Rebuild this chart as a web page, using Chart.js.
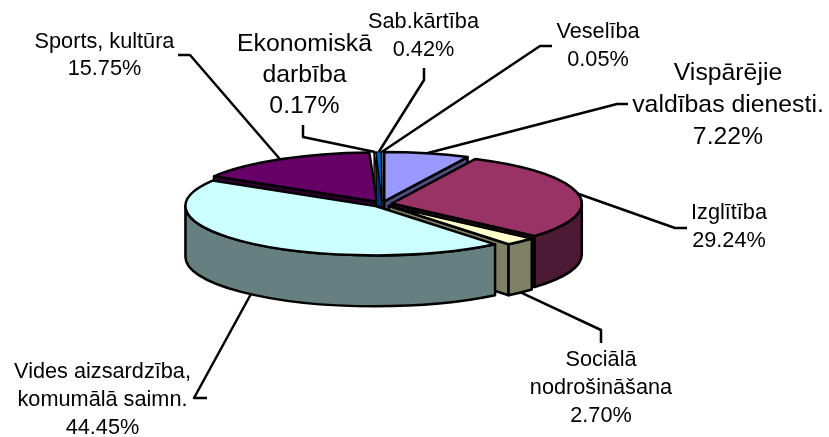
<!DOCTYPE html>
<html><head><meta charset="utf-8">
<style>html,body{margin:0;padding:0;background:#fff}canvas{display:block}</style>
<script src="https://cdn.jsdelivr.net/npm/chart.js@4"></script>
</head><body><canvas id="c" width="829" height="437"></canvas>
<script>
const categories = ["Vispārējie valdības dienesti.","Izglītība","Sociālā nodrošināšana","Vides aizsardzība, komumālā saimn.","Sports, kultūra","Ekonomiskā darbība","Sab.kārtība","Veselība"];
const values = [7.22,29.24,2.70,44.45,15.75,0.17,0.42,0.05];
const topColors = ["#9999FF","#993366","#FFFFCC","#CCFFFF","#660066","#FF8080","#0066CC","#CCCCFF"];
const wallColors = ["#4D4D80","#4D1A33","#808066","#668080","#330033","#804040","#003366","#666680"];
const labelLines = [["Vispārējie","valdības dienesti."],["Izglītība"],["Sociālā","nodrošināšana"],["Vides aizsardzība,","komumālā saimn."],["Sports, kultūra"],["Ekonomiskā","darbība"],["Sab.kārtība"],["Veselība"]];
const labelFont = [24.8,21.7,21.7,21.7,21.7,24.8,21.7,21.7];
const labelCenter = [[728,73],[729,213],[601,360],[102.5,372],[104.5,42.5],[304.5,44],[423.5,22],[598,32]];
const labelStep = [32,28,28,28,27,31,28,28];
const leaderElbow = [[[628,104],[617,104]],[[687,228],[675,228]],[[601,343],[601,330]],[[207,398],[194,398]],[[178,55],[190,55]],[[303,125],[303,137]],[[424,68],[424,80]],[[552,46],[540,46]]];
const drawOrder = [7,5,4,0,6,1,2,3];
const CX = 382, CY = 204, RADIUS = 190, SQUASH = 0.26, DEPTH = 51, EXPLODE = 10;

function geom(el){
  const mid=(el.startAngle+el.endAngle)/2;
  return {x:el.x+EXPLODE*Math.cos(mid), y:el.y+EXPLODE*SQUASH*Math.sin(mid), a:el.startAngle, b:el.endAngle, r:el.outerRadius, mid};
}
const pie3d = {
  id:'pie3d',
  beforeDatasetsDraw(chart){
    const ctx=chart.ctx, arcs=chart.getDatasetMeta(0).data;
    ctx.save();
    ctx.strokeStyle='#000'; ctx.lineJoin='round';
    drawOrder.forEach(i=>{
      const el=arcs[i], g=geom(el), ry=g.r*SQUASH;
      ctx.lineWidth=(g.b-g.a)<0.05?1.2:2.5;
      const px=t=>g.x+g.r*Math.cos(t), py=t=>g.y+ry*Math.sin(t);
      ctx.fillStyle=wallColors[i];
      const quad=t=>{ctx.beginPath();ctx.moveTo(g.x,g.y);ctx.lineTo(px(t),py(t));ctx.lineTo(px(t),py(t)+DEPTH);ctx.lineTo(g.x,g.y+DEPTH);ctx.closePath();ctx.fill();ctx.stroke();};
      if(Math.sin(g.a-Math.PI/2)>0) quad(g.a);
      if(Math.sin(g.b+Math.PI/2)>0) quad(g.b);
      const a=Math.max(g.a,0), b=Math.min(g.b,Math.PI);
      if(b>a){
        ctx.beginPath();
        ctx.ellipse(g.x,g.y,g.r,ry,0,a,b);
        ctx.lineTo(px(b),py(b)+DEPTH);
        ctx.ellipse(g.x,g.y+DEPTH,g.r,ry,0,b,a,true);
        ctx.closePath();ctx.fill();ctx.stroke();
      }
      ctx.save();
      ctx.translate(g.x,g.y);ctx.scale(1,SQUASH);ctx.translate(-el.x,-el.y);
      el.draw(ctx);
      ctx.restore();
      ctx.beginPath();ctx.moveTo(g.x,g.y);ctx.ellipse(g.x,g.y,g.r,ry,0,g.a,g.b);ctx.closePath();ctx.stroke();
    });
    // leaders and labels
    ctx.lineWidth=2.5;
    ctx.fillStyle='#000';ctx.textAlign='center';ctx.textBaseline='middle';
    arcs.forEach((el,i)=>{
      const g=geom(el), s=Math.sin(g.mid);
      const ex=g.x+g.r*Math.cos(g.mid), ey=g.y+g.r*SQUASH*s+(s>0?DEPTH:0);
      ctx.beginPath();ctx.moveTo(leaderElbow[i][0][0],leaderElbow[i][0][1]);ctx.lineTo(leaderElbow[i][1][0],leaderElbow[i][1][1]);ctx.lineTo(ex,ey);ctx.stroke();
      ctx.font=labelFont[i]+'px "Liberation Sans"';
      const lines=labelLines[i].concat([values[i].toFixed(2)+'%']);
      lines.forEach((t,j)=>ctx.fillText(t,labelCenter[i][0],labelCenter[i][1]+j*labelStep[i]));
    });
    ctx.restore();
    return false;
  }
};
new Chart(document.getElementById('c'),{
  type:'pie',
  data:{labels:categories,datasets:[{data:values,backgroundColor:topColors,borderWidth:0}]},
  options:{responsive:false,animation:false,rotation:0,radius:RADIUS,
    layout:{padding:{left:0,top:0,right:829-2*CX,bottom:437-2*CY}},
    plugins:{legend:{display:false},tooltip:{enabled:false}}},
  plugins:[pie3d]
});
</script></body></html>
